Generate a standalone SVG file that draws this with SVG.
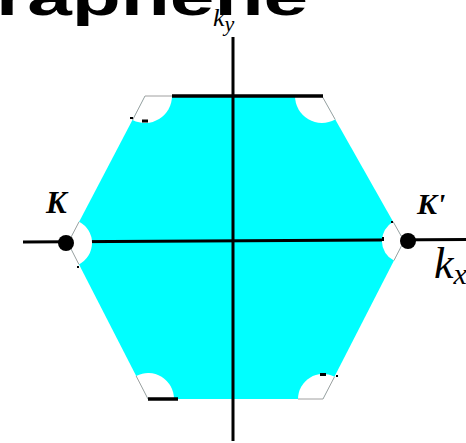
<svg xmlns="http://www.w3.org/2000/svg" width="466" height="443" viewBox="0 0 466 443">
<style>
.title{font-family:"Liberation Sans",Arial,sans-serif;font-weight:bold;fill:#000}
.math{font-family:"Liberation Serif","Times New Roman",serif;font-style:italic;fill:#000}
.bold{font-weight:bold}
.axis{stroke:#000;stroke-width:3;fill:none}
.sector{fill:#fff;stroke:none}
.edge{stroke:#a0a0a0;stroke-width:1;fill:none}
.thick{stroke:#000;stroke-width:3.5}
</style>
<rect width="466" height="443" fill="#fff"/>
<text class="title" x="-4" y="15" font-size="54" textLength="312" lengthAdjust="spacingAndGlyphs">raphene</text>
<g id="zone">
<polygon points="145,96 322,96 404,241 323,399 148,399 68,243" fill="#00ffff"/>
</g>
<g id="connectors">
<line class="axis" x1="233" y1="37" x2="233" y2="441"/>
<line class="axis" x1="23" y1="242" x2="466" y2="239.5"/>
</g>
<g id="sectors">
<path class="sector" d="M145,96 L172,96 A27,27 0 0 1 132.6,120 Z"/>
<path class="sector" d="M322,96 L295,96 A27,27 0 0 0 335.2,119.5 Z"/>
<path class="sector" d="M68,243 L79.1,221.7 A24,24 0 0 1 78.9,264.4 Z"/>
<path class="sector" d="M404,241 L393.2,221.8 A22,22 0 0 0 393.9,260.6 Z"/>
<path class="sector" d="M148,399 L174,399 A26,26 0 0 0 136.1,375.9 Z"/>
<path class="sector" d="M323,399 L298,399 A25,25 0 0 1 334.5,376.8 Z"/>
<polyline class="edge" points="132.6,120 145,96 172,96"/>
<polyline class="edge" points="79.1,221.7 68,243 78.9,264.4"/>
<polyline class="edge" points="393.2,221.8 404,241 393.9,260.6"/>
<polyline class="edge" points="335.2,119.5 322,96"/>
<polyline class="edge" points="136.1,375.9 148,399"/>
<polyline class="edge" points="298,399 323,399 334.5,376.8"/>
</g>
<g id="edges">
<line class="thick" x1="172" y1="96" x2="323" y2="96"/>
<line class="thick" x1="148" y1="399" x2="178" y2="399"/>
<rect x="142" y="119.5" width="6" height="3" fill="#000"/>
<rect x="130" y="117" width="3" height="2" fill="#000"/>
<rect x="320" y="373" width="6" height="3" fill="#000"/>
<rect x="336" y="375" width="2" height="2" fill="#000"/>
<rect x="391" y="221" width="2" height="2" fill="#000"/>
<rect x="382" y="237" width="2" height="4" fill="#000"/>
<rect x="77" y="266" width="2" height="2" fill="#000"/>
</g>
<g id="node-K">
<circle cx="66" cy="243" r="8" fill="#000"/>
<text class="math bold" x="46" y="213" font-size="31">K</text>
</g>
<g id="node-Kp">
<circle cx="408" cy="241" r="8" fill="#000"/>
<text class="math bold" x="417" y="214" font-size="30">K'</text>
</g>
<g id="label-ky">
<text class="math" x="213" y="26" font-size="26">k<tspan font-size="22" dy="5">y</tspan></text>
</g>
<g id="label-kx">
<text class="math" x="434" y="278" font-size="44">k<tspan font-size="30" dy="6">x</tspan></text>
</g>
</svg>
